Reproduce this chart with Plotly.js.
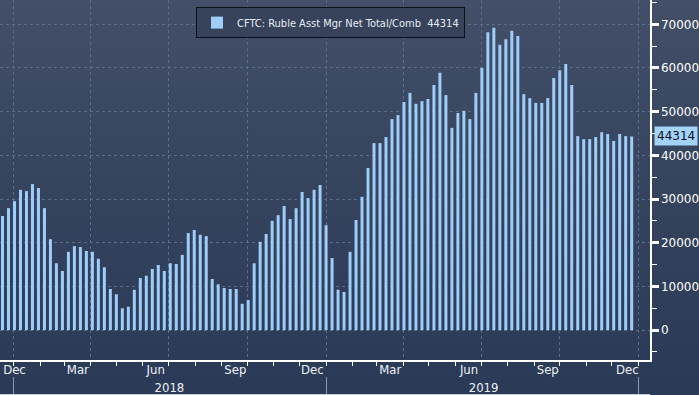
<!DOCTYPE html>
<html>
<head>
<meta charset="utf-8">
<script src="https://cdn.plot.ly/plotly-3.0.1.min.js"></script>
<style>
  html, body { margin: 0; padding: 0; background: #2b3a56; }
  #chart {
    width: 699px; height: 395px;
    background: linear-gradient(to bottom, #434f69 0px, #36445e 180px, #2c3b57 360px, #2b3a56 395px);
  }
</style>
</head>
<body>
<div id="chart"></div>
<script>
// Weekly CFTC Ruble Asset Manager net positions (contracts)
const startDate = '2017-12-19';
const values = [
  26100, 27900, 29500, 32100, 31800, 33400, 32500, 27900, 20800, 15300,
  13500, 17900, 19200, 19000, 18100, 17900, 16300, 14400, 9400, 8200,
  5000, 5300, 9200, 11900, 12400, 14000, 14900, 13500, 15300, 15100,
  17200, 22200, 22900, 21800, 21500, 11700, 10500, 9600, 9400, 9400,
  6000, 6900, 15300, 20200, 22000, 25000, 26300, 28400, 25400, 27900,
  31600, 30200, 32100, 33200, 24000, 16500, 9200, 8700, 17900, 25200,
  30500, 37100, 42800, 42800, 44200, 48300, 49200, 52200, 54300, 51800,
  52400, 52900, 56100, 58900, 53800, 46300, 49700, 50200, 48300, 54300,
  60000, 68200, 69200, 65300, 66600, 68500, 67300, 54000, 53100, 52000,
  52000, 53100, 57700, 59500, 60900, 56100, 44400, 43700, 43700, 44200,
  45300, 44900, 43300, 44900, 44400, 44314
];
const seriesName = 'CFTC: Ruble Asst Mgr Net Total/Comb';

const monthLabelDates = ['2018-01-02','2018-03-17','2018-06-16','2018-09-17','2018-12-16',
                         '2019-03-17','2019-06-17','2019-09-17','2019-12-19'];
const monthLabels = ['Dec','Mar','Jun','Sep','Dec','Mar','Jun','Sep','Dec'];
const quarterDates = ['2018-01-01','2018-04-01','2018-07-01','2018-10-01',
                      '2019-01-01','2019-04-01','2019-07-01','2019-10-01','2020-01-01'];
const yearBoundaries = ['2018-01-01','2019-01-01','2020-01-01'];
const yearLabelDates = ['2018-07-02','2019-07-04'];
const yearLabels = ['2018','2019'];
const yTicks = [0,10000,20000,30000,40000,50000,60000,70000];
const yTickText = yTicks.map(String);

// weekly dates
const dates = [];
{
  const d0 = new Date(startDate + 'T00:00:00Z');
  for (let i = 0; i < values.length; i++) {
    const d = new Date(d0.getTime() + i * 7 * 86400000);
    dates.push(d.toISOString().slice(0,10));
  }
}
const lastVal = values[values.length - 1];
const xRange = ['2017-12-16 02:00', '2020-01-14 10:00'];
const labFont = 'DejaVu Sans Condensed, Liberation Sans Narrow, DejaVu Sans, sans-serif';
const gridCol = '#5b6d8a';

const trace = {
  type: 'bar',
  x: dates,
  y: values,
  name: seriesName + '\u00a0\u00a0' + lastVal,
  marker: { color: '#9fcdfa', line: { width: 0 } },
  hoverinfo: 'x+y'
};
// invisible copies so the helper axes (month labels, year band) get drawn
const helpers = ['x2','x3','x4'].map(ax => ({
  type: 'bar', x: dates, y: values, xaxis: ax, yaxis: 'y',
  opacity: 0, showlegend: false, hoverinfo: 'skip',
  marker: { color: 'rgba(0,0,0,0)' }
}));

const layout = {
  width: 699, height: 395,
  margin: { l: 0, r: 49, t: 0, b: 0, pad: 0 },
  paper_bgcolor: 'rgba(0,0,0,0)',
  plot_bgcolor: 'rgba(0,0,0,0)',
  bargap: 0.5,
  showlegend: true,
  legend: {
    x: 196/650, y: 0.982, xanchor: 'left', yanchor: 'top',
    bgcolor: '#36435b', bordercolor: '#0c1018', borderwidth: 1,
    font: { family: labFont, size: 11, color: '#e6ebf3' },
    itemwidth: 30
  },
  xaxis: {
    type: 'date', range: xRange, anchor: 'y',
    tickmode: 'array', tickvals: quarterDates, showticklabels: false,
    ticks: '', showgrid: true, gridcolor: gridCol, griddash: 'dot', gridwidth: 1,
    zeroline: false,
    showline: true, linecolor: '#ffffff', linewidth: 1.5,
    minor: { tickmode: 'linear', tick0: '2018-01-01', dtick: 'M1', ticks: 'outside',
             ticklen: 4, tickcolor: '#ffffff', tickwidth: 1, showgrid: false },
    fixedrange: true
  },
  xaxis2: {
    type: 'date', range: xRange, overlaying: 'x', anchor: 'y',
    tickmode: 'array', tickvals: monthLabelDates, ticktext: monthLabels, ticks: '',
    showgrid: false, zeroline: false, showline: false,
    tickfont: { family: labFont, size: 13, color: '#eef2f7' }
  },
  xaxis3: {
    type: 'date', range: xRange, overlaying: 'x', anchor: 'free', position: 0, side: 'top',
    tickmode: 'array', tickvals: yearBoundaries, showticklabels: false,
    ticks: 'outside', ticklen: 17, tickwidth: 1, tickcolor: '#8d97a8',
    showgrid: false, zeroline: false,
    showline: true, linecolor: '#c9ccd2', linewidth: 3
  },
  xaxis4: {
    type: 'date', range: xRange, overlaying: 'x', anchor: 'free', position: 0, side: 'top',
    tickmode: 'array', tickvals: yearLabelDates, ticktext: yearLabels, ticks: '',
    showgrid: false, zeroline: false, showline: false,
    tickfont: { family: labFont, size: 13, color: '#eef2f7' }
  },
  yaxis: {
    side: 'right', anchor: 'x', domain: [0.0878, 1],
    range: [-6938, 75567],
    tickmode: 'array', tickvals: yTicks, ticktext: yTickText,
    ticks: 'outside', ticklen: 7, tickwidth: 3, tickcolor: '#ffffff',
    showgrid: true, gridcolor: gridCol, griddash: 'dot', gridwidth: 1,
    zeroline: false, showline: true, linecolor: '#ffffff', linewidth: 1.5,
    tickfont: { family: 'DejaVu Sans, sans-serif', size: 12, color: '#ffffff' },
    minor: { tickmode: 'linear', tick0: 0, dtick: 5000, ticks: 'outside', ticklen: 5,
             tickcolor: '#ffffff', tickwidth: 1, showgrid: false },
    fixedrange: true
  },
  annotations: [{
    xref: 'paper', x: 1, xanchor: 'left', xshift: 4,
    yref: 'y', y: lastVal, yanchor: 'middle',
    text: String(lastVal), showarrow: false,
    bgcolor: '#a3d2fb', borderpad: 2,
    font: { family: 'DejaVu Sans, sans-serif', size: 12, color: '#0a0f18' }
  }]
};

Plotly.newPlot('chart', [trace].concat(helpers), layout, { displayModeBar: false, staticPlot: true });
</script>
</body>
</html>
